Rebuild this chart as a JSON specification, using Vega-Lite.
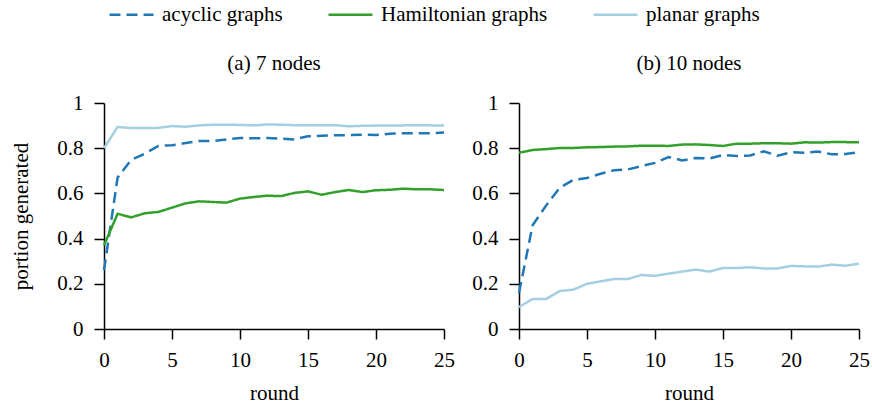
{
  "$schema": "https://vega.github.io/schema/vega-lite/v6.json",
  "background": "white",
  "padding": {"left": 10, "top": 2, "right": 4, "bottom": 2},
  "bounds": "flush",
  "spacing": 75,
  "datasets": {
    "d": [
      {"panel": "a", "round": 0, "acyclic graphs": 0.26, "Hamiltonian graphs": 0.37, "planar graphs": 0.8},
      {"panel": "a", "round": 1, "acyclic graphs": 0.67, "Hamiltonian graphs": 0.51, "planar graphs": 0.894},
      {"panel": "a", "round": 2, "acyclic graphs": 0.749, "Hamiltonian graphs": 0.494, "planar graphs": 0.889},
      {"panel": "a", "round": 3, "acyclic graphs": 0.776, "Hamiltonian graphs": 0.512, "planar graphs": 0.889},
      {"panel": "a", "round": 4, "acyclic graphs": 0.81, "Hamiltonian graphs": 0.518, "planar graphs": 0.89},
      {"panel": "a", "round": 5, "acyclic graphs": 0.813, "Hamiltonian graphs": 0.537, "planar graphs": 0.898},
      {"panel": "a", "round": 6, "acyclic graphs": 0.823, "Hamiltonian graphs": 0.556, "planar graphs": 0.895},
      {"panel": "a", "round": 7, "acyclic graphs": 0.832, "Hamiltonian graphs": 0.565, "planar graphs": 0.901},
      {"panel": "a", "round": 8, "acyclic graphs": 0.832, "Hamiltonian graphs": 0.562, "planar graphs": 0.904},
      {"panel": "a", "round": 9, "acyclic graphs": 0.839, "Hamiltonian graphs": 0.559, "planar graphs": 0.904},
      {"panel": "a", "round": 10, "acyclic graphs": 0.845, "Hamiltonian graphs": 0.577, "planar graphs": 0.903},
      {"panel": "a", "round": 11, "acyclic graphs": 0.844, "Hamiltonian graphs": 0.584, "planar graphs": 0.901},
      {"panel": "a", "round": 12, "acyclic graphs": 0.845, "Hamiltonian graphs": 0.59, "planar graphs": 0.905},
      {"panel": "a", "round": 13, "acyclic graphs": 0.842, "Hamiltonian graphs": 0.588, "planar graphs": 0.904},
      {"panel": "a", "round": 14, "acyclic graphs": 0.839, "Hamiltonian graphs": 0.602, "planar graphs": 0.902},
      {"panel": "a", "round": 15, "acyclic graphs": 0.853, "Hamiltonian graphs": 0.609, "planar graphs": 0.901},
      {"panel": "a", "round": 16, "acyclic graphs": 0.855, "Hamiltonian graphs": 0.594, "planar graphs": 0.902},
      {"panel": "a", "round": 17, "acyclic graphs": 0.857, "Hamiltonian graphs": 0.606, "planar graphs": 0.902},
      {"panel": "a", "round": 18, "acyclic graphs": 0.858, "Hamiltonian graphs": 0.615, "planar graphs": 0.897},
      {"panel": "a", "round": 19, "acyclic graphs": 0.86, "Hamiltonian graphs": 0.606, "planar graphs": 0.899},
      {"panel": "a", "round": 20, "acyclic graphs": 0.858, "Hamiltonian graphs": 0.614, "planar graphs": 0.9},
      {"panel": "a", "round": 21, "acyclic graphs": 0.864, "Hamiltonian graphs": 0.616, "planar graphs": 0.9},
      {"panel": "a", "round": 22, "acyclic graphs": 0.866, "Hamiltonian graphs": 0.621, "planar graphs": 0.901},
      {"panel": "a", "round": 23, "acyclic graphs": 0.866, "Hamiltonian graphs": 0.618, "planar graphs": 0.901},
      {"panel": "a", "round": 24, "acyclic graphs": 0.866, "Hamiltonian graphs": 0.618, "planar graphs": 0.901},
      {"panel": "a", "round": 25, "acyclic graphs": 0.869, "Hamiltonian graphs": 0.615, "planar graphs": 0.9},
      {"panel": "b", "round": 0, "acyclic graphs": 0.16, "Hamiltonian graphs": 0.78, "planar graphs": 0.097},
      {"panel": "b", "round": 1, "acyclic graphs": 0.459, "Hamiltonian graphs": 0.792, "planar graphs": 0.133},
      {"panel": "b", "round": 2, "acyclic graphs": 0.547, "Hamiltonian graphs": 0.796, "planar graphs": 0.133},
      {"panel": "b", "round": 3, "acyclic graphs": 0.625, "Hamiltonian graphs": 0.801, "planar graphs": 0.168},
      {"panel": "b", "round": 4, "acyclic graphs": 0.66, "Hamiltonian graphs": 0.801, "planar graphs": 0.174},
      {"panel": "b", "round": 5, "acyclic graphs": 0.668, "Hamiltonian graphs": 0.804, "planar graphs": 0.2},
      {"panel": "b", "round": 6, "acyclic graphs": 0.687, "Hamiltonian graphs": 0.805, "planar graphs": 0.211},
      {"panel": "b", "round": 7, "acyclic graphs": 0.702, "Hamiltonian graphs": 0.807, "planar graphs": 0.221},
      {"panel": "b", "round": 8, "acyclic graphs": 0.706, "Hamiltonian graphs": 0.808, "planar graphs": 0.221},
      {"panel": "b", "round": 9, "acyclic graphs": 0.721, "Hamiltonian graphs": 0.811, "planar graphs": 0.239},
      {"panel": "b", "round": 10, "acyclic graphs": 0.735, "Hamiltonian graphs": 0.811, "planar graphs": 0.235},
      {"panel": "b", "round": 11, "acyclic graphs": 0.761, "Hamiltonian graphs": 0.81, "planar graphs": 0.245},
      {"panel": "b", "round": 12, "acyclic graphs": 0.746, "Hamiltonian graphs": 0.816, "planar graphs": 0.254},
      {"panel": "b", "round": 13, "acyclic graphs": 0.757, "Hamiltonian graphs": 0.817, "planar graphs": 0.263},
      {"panel": "b", "round": 14, "acyclic graphs": 0.754, "Hamiltonian graphs": 0.814, "planar graphs": 0.254},
      {"panel": "b", "round": 15, "acyclic graphs": 0.77, "Hamiltonian graphs": 0.81, "planar graphs": 0.27},
      {"panel": "b", "round": 16, "acyclic graphs": 0.765, "Hamiltonian graphs": 0.82, "planar graphs": 0.27},
      {"panel": "b", "round": 17, "acyclic graphs": 0.768, "Hamiltonian graphs": 0.82, "planar graphs": 0.273},
      {"panel": "b", "round": 18, "acyclic graphs": 0.786, "Hamiltonian graphs": 0.822, "planar graphs": 0.268},
      {"panel": "b", "round": 19, "acyclic graphs": 0.767, "Hamiltonian graphs": 0.822, "planar graphs": 0.268},
      {"panel": "b", "round": 20, "acyclic graphs": 0.782, "Hamiltonian graphs": 0.82, "planar graphs": 0.279},
      {"panel": "b", "round": 21, "acyclic graphs": 0.78, "Hamiltonian graphs": 0.826, "planar graphs": 0.277},
      {"panel": "b", "round": 22, "acyclic graphs": 0.785, "Hamiltonian graphs": 0.825, "planar graphs": 0.276},
      {"panel": "b", "round": 23, "acyclic graphs": 0.773, "Hamiltonian graphs": 0.827, "planar graphs": 0.285},
      {"panel": "b", "round": 24, "acyclic graphs": 0.774, "Hamiltonian graphs": 0.827, "planar graphs": 0.28},
      {"panel": "b", "round": 25, "acyclic graphs": 0.782, "Hamiltonian graphs": 0.826, "planar graphs": 0.289}
    ]
  },
  "config": {
    "view": {"stroke": null},
    "font": "Liberation Serif",
    "axis": {
      "grid": false,
      "domainColor": "black",
      "domainWidth": 1.5,
      "tickColor": "black",
      "tickWidth": 1.5,
      "tickSize": 10,
      "labelFont": "Liberation Serif",
      "labelFontSize": 21,
      "labelColor": "black",
      "labelPadding": 10,
      "labelFlush": false,
      "labelOverlap": false,
      "titleFont": "Liberation Serif",
      "titleFontSize": 21,
      "titleFontWeight": "normal",
      "titleColor": "black"
    },
    "axisY": {"labelPadding": 11, "titlePadding": 25},
    "axisX": {"titlePadding": 12},
    "title": {"font": "Liberation Serif", "fontSize": 21, "fontWeight": "normal", "color": "black", "offset": 18, "anchor": "middle"},
    "legend": {
      "labelFont": "Liberation Serif",
      "labelFontSize": 21,
      "labelColor": "black",
      "labelLimit": 500,
      "symbolType": "M-2,0H2",
      "symbolSize": 484,
      "symbolStrokeWidth": 2.5,
      "labelOffset": 18,
      "columnPadding": 40,
      "padding": 0,
      "rowPadding": 0
    }
  },
  "hconcat": [
    {
      "width": 340,
      "height": 226,
      "title": "(a) 7 nodes",
      "data": {"name": "d"},
      "transform": [
        {"filter": "datum.panel === 'a'"},
        {"fold": ["acyclic graphs", "Hamiltonian graphs", "planar graphs"], "as": ["series", "value"]}
      ],
      "mark": {"type": "line", "strokeWidth": 2.5},
      "encoding": {
        "x": {"field": "round", "type": "quantitative", "scale": {"domain": [0, 25], "nice": false}, "axis": {"values": [0, 5, 10, 15, 20, 25], "title": "round"}},
        "y": {"field": "value", "type": "quantitative", "scale": {"domain": [0, 1], "nice": false}, "axis": {"values": [0, 0.2, 0.4, 0.6, 0.8, 1], "format": "~g", "title": "portion generated"}},
        "color": {"field": "series", "type": "nominal", "scale": {"domain": ["acyclic graphs", "Hamiltonian graphs", "planar graphs"], "range": ["#1f78b4", "#33a02c", "#a6cee3"]}, "legend": {"title": null, "orient": "none", "direction": "horizontal", "legendX": 15, "legendY": -101}},
        "strokeDash": {"field": "series", "type": "nominal", "scale": {"domain": ["acyclic graphs", "Hamiltonian graphs", "planar graphs"], "range": [[11, 6], [1, 0], [1, 0]]}, "legend": {"title": null, "orient": "none", "direction": "horizontal", "legendX": 15, "legendY": -101}}
      }
    },
    {
      "width": 340,
      "height": 226,
      "title": "(b) 10 nodes",
      "data": {"name": "d"},
      "transform": [
        {"filter": "datum.panel === 'b'"},
        {"fold": ["acyclic graphs", "Hamiltonian graphs", "planar graphs"], "as": ["series", "value"]}
      ],
      "mark": {"type": "line", "strokeWidth": 2.5},
      "encoding": {
        "x": {"field": "round", "type": "quantitative", "scale": {"domain": [0, 25], "nice": false}, "axis": {"values": [0, 5, 10, 15, 20, 25], "title": "round"}},
        "y": {"field": "value", "type": "quantitative", "scale": {"domain": [0, 1], "nice": false}, "axis": {"values": [0, 0.2, 0.4, 0.6, 0.8, 1], "format": "~g", "title": null}},
        "color": {"field": "series", "type": "nominal", "scale": {"domain": ["acyclic graphs", "Hamiltonian graphs", "planar graphs"], "range": ["#1f78b4", "#33a02c", "#a6cee3"]}, "legend": {"title": null, "orient": "none", "direction": "horizontal", "legendX": 15, "legendY": -101}},
        "strokeDash": {"field": "series", "type": "nominal", "scale": {"domain": ["acyclic graphs", "Hamiltonian graphs", "planar graphs"], "range": [[11, 6], [1, 0], [1, 0]]}, "legend": {"title": null, "orient": "none", "direction": "horizontal", "legendX": 15, "legendY": -101}}
      }
    }
  ]
}
